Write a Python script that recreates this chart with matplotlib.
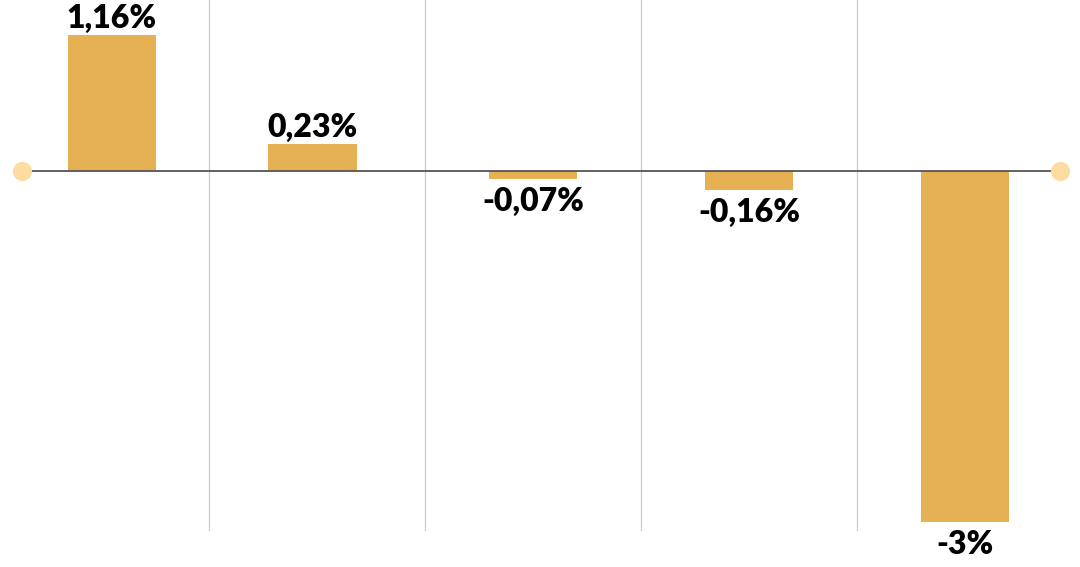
import matplotlib
matplotlib.use("Agg")
import matplotlib.pyplot as plt

# values shown on the chart (percent)
values = [1.16, 0.23, -0.07, -0.16, -3.0]
labels = ["1,16%", "0,23%", "-0,07%", "-0,16%", "-3%"]
positions = [0.05, 0.98, 2.0, 3.0, 4.0]
separators = [0.5, 1.5, 2.5, 3.5]

bar_color = "#e6b055"
dot_color = "#fcdca0"

fig = plt.figure(figsize=(10.8, 5.67), dpi=100)
ax = fig.add_axes([0, 0, 1, 1])
ax.set_xlim(-0.468, 4.532)
ax.set_ylim(-3.385, 1.4615)
ax.axis("off")

# light vertical separators
for s in separators:
    ax.plot([s, s], [-3.07, 1.5], color="#cfcfcf", linewidth=1, zorder=1)

ax.bar(positions, values, width=0.41, color=bar_color, zorder=2)

# zero line with dots at both ends
ax.plot([-0.366, 4.44], [0, 0], color="#555555", linewidth=1.3, zorder=3)
ax.scatter([-0.366, 4.44], [0, 0], s=190, color=dot_color, zorder=4, linewidths=0)

font = ["Lato", "DejaVu Sans"]
for x, v, lab in zip(positions, values, labels):
    if v >= 0:
        ax.text(x, v + 0.065, lab, ha="center", va="baseline", fontsize=23,
                fontweight="heavy", family=font, zorder=5)
    else:
        ax.text(x, v - 0.07, lab, ha="center", va="top", fontsize=23,
                fontweight="heavy", family=font, zorder=5)

fig.savefig("out.png", dpi=100)
